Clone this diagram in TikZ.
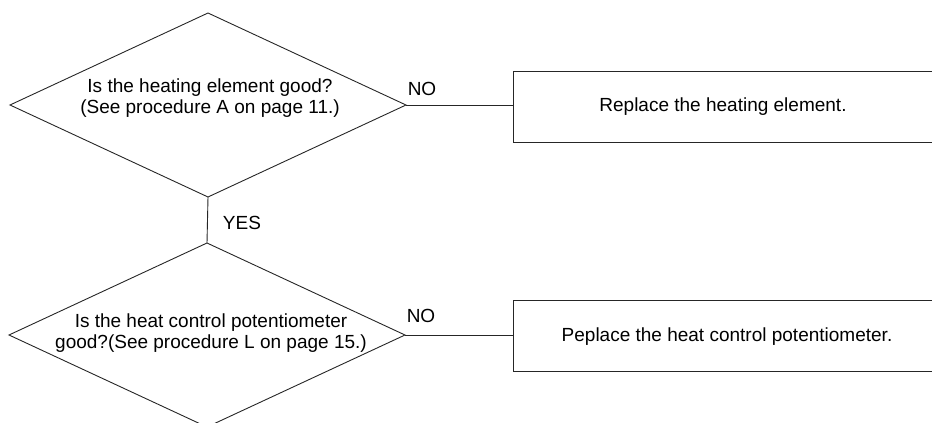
\documentclass[tikz,border=0pt]{standalone}
\usepackage{fontspec}
\setmainfont{Liberation Sans}
\usetikzlibrary{shapes.geometric}

\begin{document}
\begin{tikzpicture}[
    x=1pt, y=-1pt,
    line width=0.9pt,
    every node/.style={font=\fontsize{19}{21}\selectfont},
    decision/.style={draw=black!85, diamond, inner sep=0pt, outer sep=0pt,
                     minimum width=396pt, minimum height=184pt},
    actionbox/.style={draw=black!85, rectangle, inner sep=0pt, outer sep=0pt,
                      minimum width=421pt, minimum height=71pt},
    question/.style={align=center, inner sep=0pt},
    answer/.style={inner sep=0pt},
    link/.style={draw=black!85, line width=0.9pt}
]
  \useasboundingbox (0,0) rectangle (932,423);
  \clip (0,0) rectangle (932,423);

  % first check: heating element
  \node[decision] (d1) at (208,105) {};
  \node[question] (q1) at (210,98.5)
      {Is the heating element good?\\(See procedure A on page 11.)};
  \node[actionbox] (b1) at (723.5,106.5) {};
  \node[answer] (r1) at (723,107) {Replace the heating element.};

  % second check: heat control potentiometer
  \node[decision] (d2) at (207,335) {};
  \node[question] (q2) at (211,333)
      {Is the heat control potentiometer\\good?(See procedure L on page 15.)};
  \node[actionbox] (b2) at (723.5,336) {};
  \node[answer] (r2) at (727,337) {Peplace the heat control potentiometer.};

  % connectors
  \draw[link] (d1.east) -- (b1.west |- d1.east);
  \draw[link] (d2.east) -- (b2.west |- d2.east);
  \draw[link] (d1.south) -- (d2.north);

  % branch labels
  \node[answer] (no1) at (422,88.5) {NO};
  \node[answer] (no2) at (421,316) {NO};
  \node[answer] (yes1) at (242,222.5) {YES};
\end{tikzpicture}
\end{document}
